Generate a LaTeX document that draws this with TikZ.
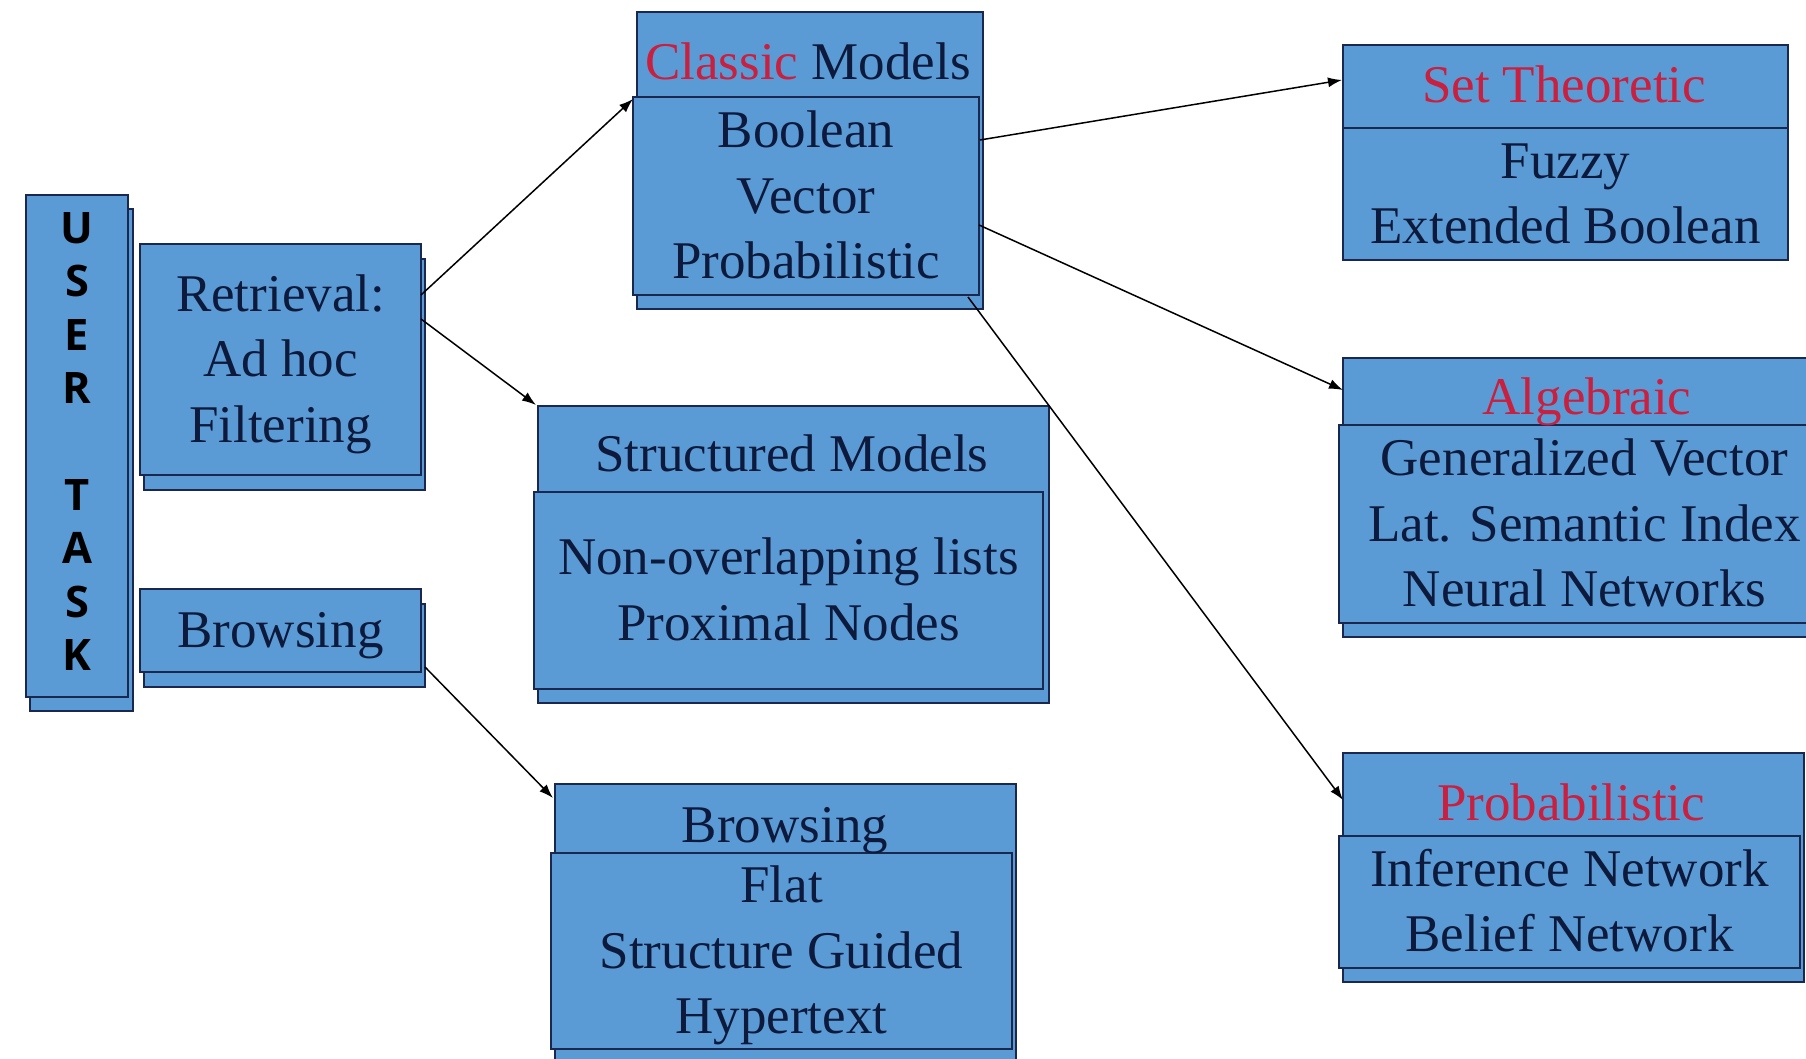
\documentclass[tikz,border=0pt]{standalone}
\usepackage{fontspec}
\setmainfont{Liberation Serif}
\newfontfamily\tasksans{Open Sans}
\usetikzlibrary{fit,calc,arrows.meta}
\definecolor{boxblue}{HTML}{5B9BD5}
\definecolor{boxedge}{HTML}{1A2850}
\definecolor{ink}{HTML}{0E1A3C}
\definecolor{hot}{HTML}{C8203E}
% strut that keeps every text line exactly one \baselineskip tall
\newcommand\lstrut{\rule[-0.24\baselineskip]{0pt}{\baselineskip}}

\begin{document}
\begin{tikzpicture}[x=0.5pt,y=-0.5pt,
  panel/.style={draw=boxedge,line width=1pt,fill=boxblue,inner sep=0pt,outer sep=0pt},
  body/.style={anchor=center,align=center,inner sep=0pt,text=ink,
    font=\fontsize{26.5}{32.75}\selectfont},
  heading/.style={anchor=base,inner sep=0pt,text=ink,font=\fontsize{26.5}{32.75}\selectfont},
  tasktext/.style={align=center,inner sep=0pt,text=black,
    font=\tasksans\bfseries\fontsize{21.7}{26.7}\selectfont},
  link/.style={line width=0.75pt,draw=black,-{Latex[length=7pt,width=5pt]}}]

\useasboundingbox (0,0) rectangle (1806,1059);
\fill[white] (0,0) rectangle (1806,1059);
\clip (0,0) rectangle (1806,1059);

% user task column
\node[panel, fit={(30,209) (133,711)}] (taskb) {};
\node[panel, fit={(26,195) (128,697)}] (task) {};
\node[tasktext] (tasklbl) at (77,441.7) {U\\S\\E\\R\\[26.7pt]T\\A\\S\\K};

% retrieval
\node[panel, fit={(144,259) (425,490)}] (retb) {};
\node[panel, fit={(140,244) (421,475)}] (ret) {};
\node[body] (rettxt) at (ret.center) {\lstrut Retrieval:\\\lstrut Ad hoc\\\lstrut Filtering};

% browsing task
\node[panel, fit={(144,604) (425,687)}] (brwb) {};
\node[panel, fit={(140,589) (421,672)}] (brw) {};
\node[body] (brwtxt) at (brw.center) {\lstrut Browsing};

% classic models
\node[panel, fit={(637,12) (983,309)}] (cmb) {};
\node[panel, fit={(633,97) (979,295)}] (cm) {};
\node[body] (cmtxt) at (cm.center) {\lstrut Boolean\\\lstrut Vector\\\lstrut Probabilistic};
\node[heading] (cmt) at (808,80) {\textcolor{hot}{Classic} Models};

% structured models
\node[panel, fit={(538,406) (1049,703)}] (smb) {};
\node[panel, fit={(534,492) (1043,689)}] (sm) {};
\node[body] (smtxt) at (sm.center) {\lstrut Non-overlapping lists\\\lstrut Proximal Nodes};
\node[heading] (smt) at (792,472) {Structured Models};

% browsing models
\node[panel, fit={(555,784) (1016,1075)}] (bmb) {};
\node[panel, fit={(551,853) (1012,1049)}] (bm) {};
\node[body] (bmtxt) at (bm.center) {\lstrut Flat\\\lstrut Structure Guided\\\lstrut Hypertext};
\node[heading] (bmt) at (785,842) {Browsing};

% set theoretic
\node[panel, fit={(1343,45) (1788,260)}] (stb) {};
\node[panel, fit={(1343,128) (1788,260)}] (st) {};
\node[body] (sttxt) at (st.center) {\lstrut Fuzzy\\\lstrut Extended Boolean};
\node[heading, text=hot] (stt) at (1564,103) {Set Theoretic};

% algebraic
\node[panel, fit={(1343,358) (1835,637)}] (alb) {};
\node[panel, fit={(1339,425) (1830,623)}] (al) {};
\node[body] (altxt) at (al.center) {\lstrut Generalized Vector\\\lstrut Lat. Semantic Index\\\lstrut Neural Networks};
\node[heading, text=hot] (alt) at (1587,415) {Algebraic};

% probabilistic
\node[panel, fit={(1343,753) (1804,982)}] (prb) {};
\node[panel, fit={(1339,836) (1800,968)}] (pr) {};
\node[body] (prtxt) at (pr.center) {\lstrut Inference Network\\\lstrut Belief Network};
\node[heading, text=hot] (prt) at (1571,820) {Probabilistic};

% connectors
\draw[link] ($(ret.north east)+(0,51)$) -- ($(cm.north west)+(0,2)$);
\draw[link] ($(ret.north east)+(0,75)$) -- ($(smb.north west)+(-2,-1)$);
\draw[link] ($(brw.south east)+(4,-5)$) -- ($(bmb.north west)+(-2,14)$);
\draw[link] ($(cm.north east)+(1,43)$) -- ($(stb.north west)+(-1,35)$);
\draw[link] ($(cm.north east)+(0,128)$) -- ($(alb.north west)+(0,32)$);
\draw[link] ($(cm.south east)+(-11,2)$) -- ($(prb.north west)+(0,47)$);
\end{tikzpicture}
\end{document}
